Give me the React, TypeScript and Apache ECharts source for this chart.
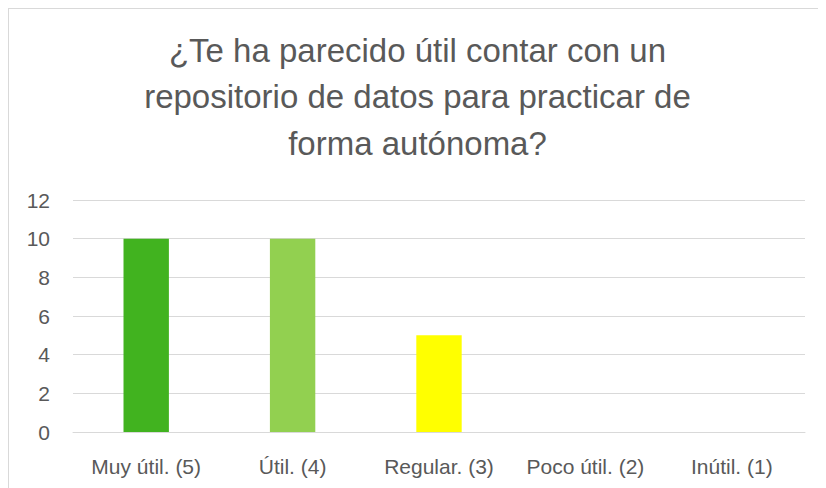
import React, { useEffect, useRef } from "react";
import * as echarts from "echarts";

const categories = ["Muy útil. (5)", "Útil. (4)", "Regular. (3)", "Poco útil. (2)", "Inútil. (1)"];
const values = [10, 10, 5, 0, 0];
const colors = ["#41B31F", "#92D050", "#FFFF00", "#4472C4", "#4472C4"];
const titleText = "¿Te ha parecido útil contar con un\nrepositorio de datos para practicar de\nforma autónoma?";

export default function App() {
  const ref = useRef<HTMLDivElement>(null);
  useEffect(() => {
    if (!ref.current) return;
    const chart = echarts.init(ref.current, undefined, { renderer: "svg" });
    chart.setOption({
      animation: false,
      title: {
        text: titleText,
        left: "center",
        top: 13,
        textStyle: {
          fontFamily: "Liberation Sans",
          fontSize: 33,
          fontWeight: "normal",
          color: "#595959",
          lineHeight: 46.5,
        },
      },
      grid: { left: 64, right: 21, top: 191, bottom: 56 },
      xAxis: {
        type: "category",
        data: categories,
        axisLine: { lineStyle: { color: "#D9D9D9", width: 1 } },
        axisTick: { show: false },
        axisLabel: {
          interval: 0,
          hideOverlap: false,
          fontFamily: "Liberation Sans",
          fontSize: 21,
          color: "#595959",
          margin: 24,
        },
      },
      yAxis: {
        type: "value",
        min: 0,
        max: 12,
        interval: 2,
        axisLine: { show: false },
        axisTick: { show: false },
        splitLine: { lineStyle: { color: "#D9D9D9", width: 1 } },
        axisLabel: {
          fontFamily: "Liberation Sans",
          fontSize: 21,
          color: "#595959",
          margin: 23,
        },
      },
      series: [
        {
          type: "bar",
          data: values.map((v, i) => ({ value: v, itemStyle: { color: colors[i] } })),
          barWidth: "31%",
        },
      ],
    });
    return () => chart.dispose();
  }, []);
  return (
    <div
      style={{
        width: 818,
        height: 480,
        borderTop: "1px solid #D9D9D9",
        borderLeft: "1px solid #D9D9D9",
        boxSizing: "border-box",
        background: "#fff",
      }}
    >
      <div ref={ref} style={{ width: 817, height: 479 }} />
    </div>
  );
}
